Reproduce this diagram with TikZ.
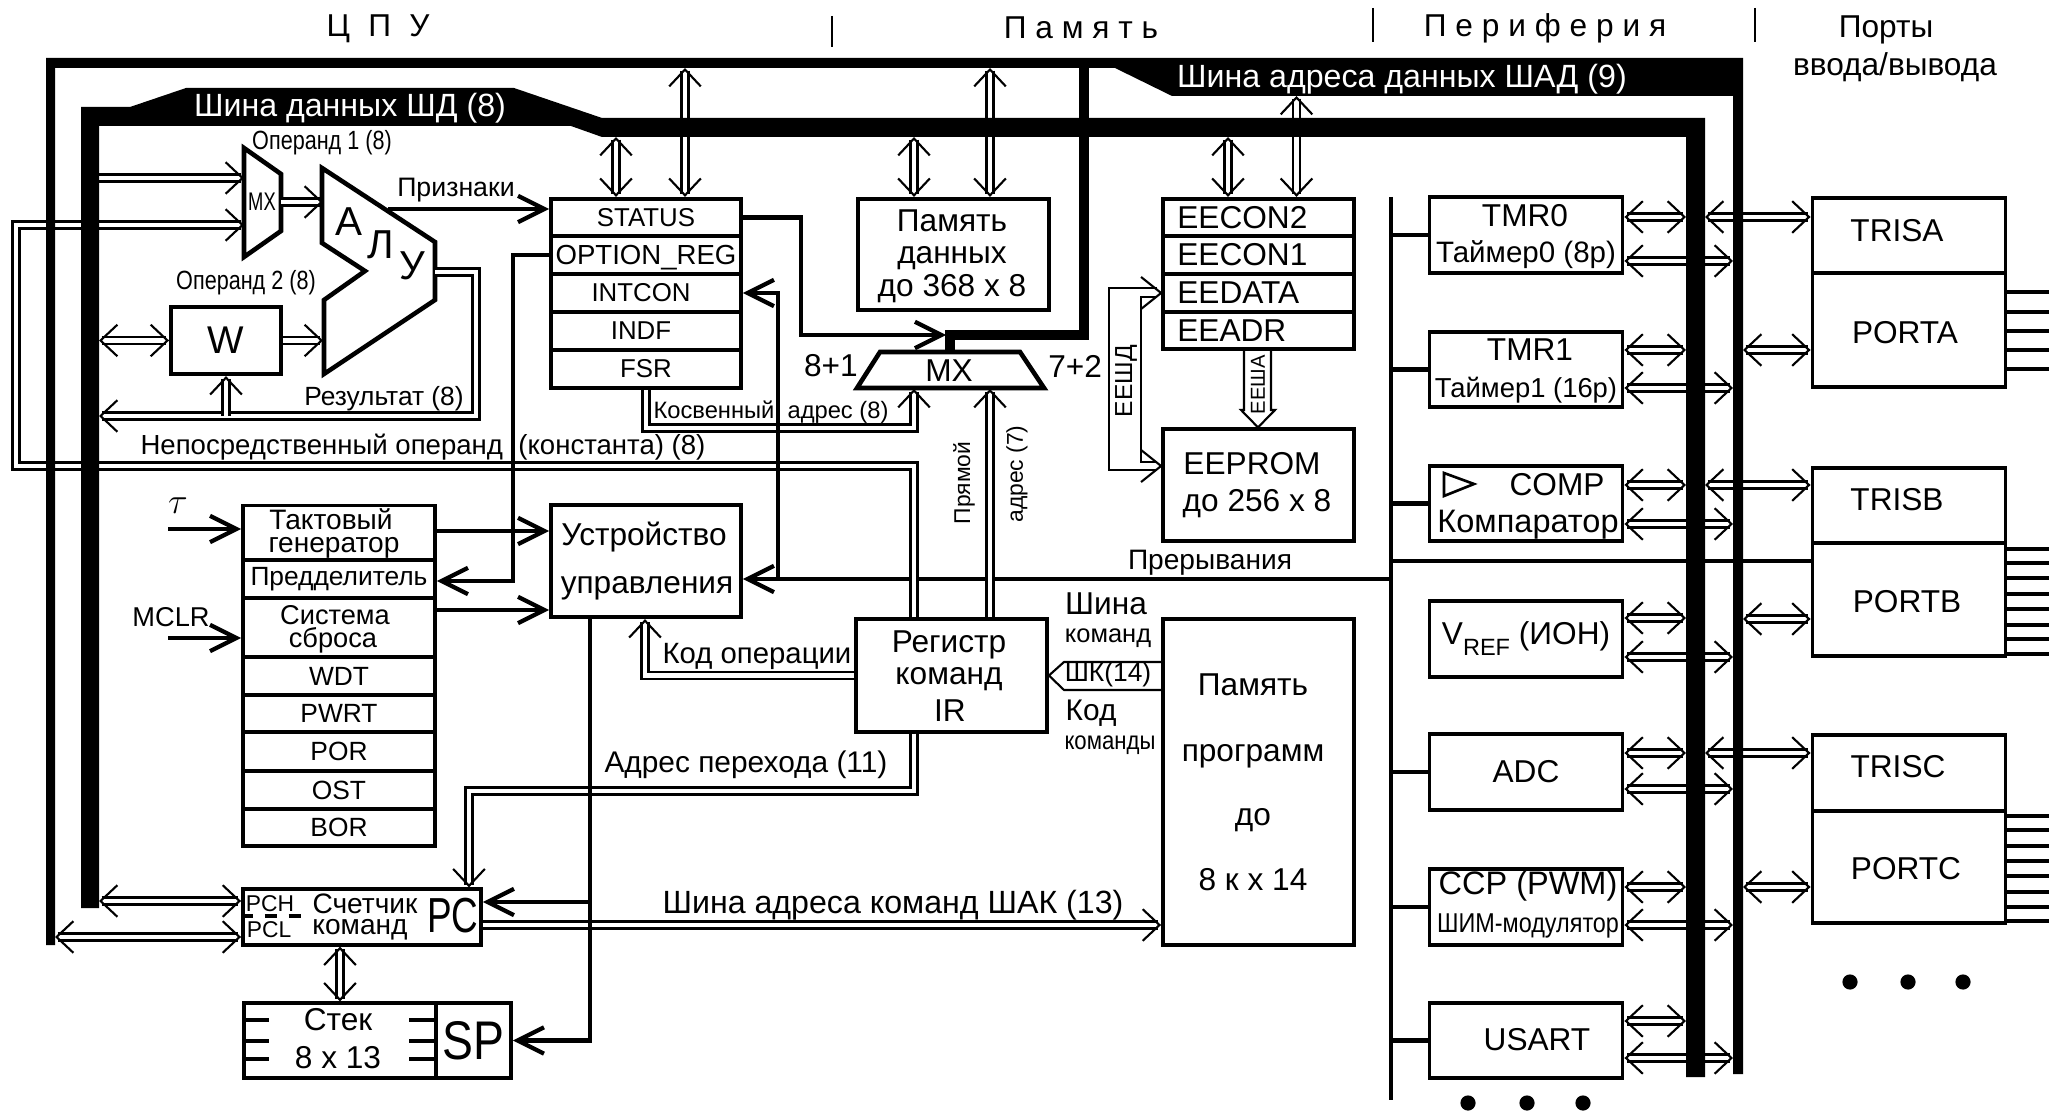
\documentclass[tikz,border=0pt]{standalone}
\usepackage{fontspec}
\usepackage{graphicx}
\setmainfont{Liberation Sans}
\usetikzlibrary{arrows.meta}
\newcommand{\fs}[1]{\fontsize{#1}{#1}\selectfont}
\newcommand{\nar}[2]{\scalebox{#1}[1]{#2}}
\def\px{.02cm}
\tikzset{
  hd/.tip={Straight Barb[length=9.6pt,width=18pt,line width=1.2pt]},
  th/.tip={Straight Barb[length=15pt,width=15pt,line width=2.4pt]},
  txt/.style={inner sep=0pt,font=\fs{#1}},
  txt/.default=18,
  box/.style 2 args={draw,line width=2.2pt,inner sep=0pt,font=\fs{18},minimum width=(#1+2)*\px,minimum height=(#2+.4)*\px},
  dbl/.style={double,double distance=2.8pt,line width=1.2pt},
  wire/.style={line width=2.3pt},
  wl/.style={line width=1.2pt},
  pin/.style={line width=2.2pt},
}
\begin{document}
\begin{tikzpicture}[x=.02cm,y=-.02cm]
\useasboundingbox (0,0) rectangle (2049,1114);
% headers
\node[txt] (hcpu) at (378,29) {\addfontfeature{LetterSpace=30}Ц П У};
\node[txt] (hmem) at (1081,28) {\addfontfeature{LetterSpace=28}Память};
\node[txt] (hper) at (1545,28) {\addfontfeature{LetterSpace=28}Периферия};
\node[txt] (hport) at (1886,30) {Порты};
\node[txt] (hio) at (1895,67) {ввода/вывода};
\draw[wl] (832,16)--(832,47) (1373,8)--(1373,42) (1755,8)--(1755,42);
% bus edges
\coordinate (dbL) at (99,0);
\coordinate (dbT) at (0,137);
\coordinate (dbR) at (1686,0);
\coordinate (dbS) at (1705,0);
\coordinate (abL) at (55,0);
\coordinate (abT) at (0,68);
\coordinate (abU) at (0,96);
\coordinate (abR) at (1733,0);
\coordinate (abS) at (1743,0);
\coordinate (pbus) at (1391,0);
% ALU and mux
\draw[line width=2.6pt] (322,168)--(435,242)--(435,300)--(324,374)--(324,300)--(365,271)--(322,243)--cycle;
\draw[line width=2.6pt] (244,148)--(281,174)--(281,231)--(244,257)--cycle;
\node[txt=14.5] (mxa) at (262,202) {\nar{.72}{МХ}};
\node[txt=23] (alua) at (349,222) {А};
\node[txt=23] (alub) at (381,245) {Л};
\node[txt=23] (aluc) at (412,266) {У};
\node[txt=15] (op1) at (322,143) {\nar{.82}{Операнд 1 (8)}};
\node[txt=15] (op2) at (246,283) {\nar{.82}{Операнд 2 (8)}};
\node[box={108}{67},font=\fs{22}] (w) at (226,340.5) {W};
\coordinate (mxw) at (244,0);
\coordinate (mxe) at (281,0);
\coordinate (aluw) at (323,0);
\coordinate (alue) at (435,0);
\coordinate (aluf) at (388,209);
% registers
\node[box={188}{37},font=\fs{14.7}] (status) at (646,217.5) {STATUS};
\node[box={188}{38},font=\fs{15.7},text depth=0pt] (optionreg) at (646,255) {OPTION\_REG};
\node[box={188}{38},font=\fs{14.7}] (intcon) at (646,293) {\hspace*{-.2cm}INTCON};
\node[box={188}{38},font=\fs{14.7}] (indf) at (646,331) {\hspace*{-.2cm}INDF};
\node[box={188}{38},font=\fs{14.7}] (fsr) at (646,369) {FSR};
\node[box={189}{111}] (mem) at (953.5,254.5) {};
\node[txt] (mema) at (952,221) {Память};
\node[txt] (memb) at (952,258) {данных};
\node[txt] (memc) at (952,289) {до 368 х 8};
\node[box={189}{37}] (eecontwo) at (1258.5,217.5) {};
\node[box={189}{38.5}] (eeconone) at (1258.5,255) {};
\node[box={189}{37.5}] (eedata) at (1258.5,293) {};
\node[box={189}{37}] (eeadr) at (1258.5,330.5) {};
\node[txt,anchor=west] (eea) at (1177,217.5) {EECON2};
\node[txt,anchor=west] (eeb) at (1177,255) {EECON1};
\node[txt,anchor=west] (eec) at (1177,293) {EEDATA};
\node[txt,anchor=west] (eed) at (1177,330.5) {EEADR};
\node[box={189}{111}] (eeprom) at (1258.5,485) {};
\node[txt] (eepa) at (1252,464) {EEPROM};
\node[txt] (eepb) at (1257,504) {до 256 х 8};
% second mux
\draw[line width=2.6pt] (880,352)--(1020,352)--(1044,388)--(857,388)--cycle;
\node[txt] (mxb) at (949,371) {МХ};
\node[txt,anchor=east] (mxl) at (858,366) {8+1};
\node[txt,anchor=west] (mxr) at (1048,366) {7+2};
\coordinate (mxs) at (0,389);
% clock stack
\node[box={190}{54.5}] (clkgen) at (339,533) {};
\node[txt=16] (clka) at (331,519) {Тактовый};
\node[txt=16] (clkb) at (334,548) {генератор};
\node[box={190}{38},font=\fs{15}] (prescaler) at (339,579) {Предделитель};
\node[box={190}{59}] (resetsys) at (339,627.5) {};
\node[txt=15.5] (rsta) at (335,615) {Система};
\node[txt=15.5] (rstb) at (333,640) {сброса};
\node[box={190}{38},font=\fs{15}] (wdt) at (339,676) {WDT};
\node[box={190}{37},font=\fs{15}] (pwrt) at (339,713.5) {PWRT};
\node[box={190}{39},font=\fs{15}] (por) at (339,751.5) {POR};
\node[box={190}{38},font=\fs{15}] (ost) at (339,790) {OST};
\node[box={190}{37},font=\fs{15}] (bor) at (339,827.5) {BOR};
\node[txt=20] (tau) at (178,506) {$\tau$};
\node[txt=15.5] (mclr) at (171,617) {MCLR};
\coordinate (tauin) at (168,529);
\coordinate (mclrin) at (168,638);
% control, IR, program memory
\node[box={188}{112}] (ctrl) at (646,561) {};
\node[txt] (ctrla) at (644,537) {Устройство};
\node[txt] (ctrlb) at (647,588) {управления};
\node[box={189}{112}] (ir) at (951.5,675.5) {};
\node[txt] (ira) at (949,645) {Регистр};
\node[txt] (irb) at (949,679) {команд};
\node[txt] (irc) at (950,711) {IR};
\node[box={189}{325}] (progmem) at (1258.5,782) {};
\node[txt] (pma) at (1253,685) {Память};
\node[txt] (pmb) at (1253,756) {программ};
\node[txt] (pmc) at (1253,820) {до};
\node[txt] (pmd) at (1253,880) {8 к х 14};
\node[txt] (cba) at (1106,604) {Шина};
\node[txt=14.5] (cbb) at (1108,638) {команд};
\node[txt=15] (cbc) at (1108,675) {ШК(14)};
\node[txt=17] (cbd) at (1091,713) {Код};
\node[txt=14.5] (cbe) at (1110,745) {\nar{.87}{команды}};
% PC and stack
\node[box={236}{55}] (pc) at (362,917) {};
\node[txt=13] (pch) at (270,904) {PCH};
\node[txt=13] (pcl) at (269,930) {PCL};
\node[txt=16] (pcc) at (365,904) {Счетчик};
\node[txt=16] (pcd) at (360,930) {команд};
\node[txt=28] (pcr) at (453,916) {\nar{.75}{PC}};
\draw[line width=2pt,dash pattern=on 7pt off 6.5pt] (pc.west|-0,916)--(305,916);
\node[box={190}{74}] (stackmem) at (340,1040.5) {};
\node[box={73}{74},font=\fs{31}] (sp) at (473.5,1040.5) {\nar{.85}{SP}};
\node[txt] (stka) at (338,1020) {Стек};
\node[txt] (stkb) at (338,1058) {8 х 13};
\foreach \yy in {1020,1041,1059}{
  \draw[wire] (stackmem.west|-0,\yy)--++(27,0);
  \draw[wire] (stackmem.east|-0,\yy)--++(-29,0);
}
% peripherals
\node[box={191}{75}] (tmr0) at (1526,235) {};
\node[txt] (tmra) at (1525,216) {TMR0};
\node[txt=16.8] (tmrb) at (1526,255) {Таймер0 (8р)};
\node[box={191}{74}] (tmr1) at (1526,369.5) {};
\node[txt] (tmrc) at (1530,350) {TMR1};
\node[txt=15.6] (tmrd) at (1526,390) {Таймер1 (16р)};
\node[box={191}{74}] (comp) at (1526,503.5) {};
\node[txt] (cmpa) at (1557,485) {COMP};
\node[txt=18.5] (cmpb) at (1528,525) {Компаратор};
\draw[wl,line width=1.5pt] (1444,473)--(1474,484)--(1444,496)--cycle;
\node[box={191}{75}] (vref) at (1526,639) {V\raisebox{-.35em}{\fs{13.4}REF} (ИОН)};
\node[box={191}{75}] (adc) at (1526,772) {ADC};
\node[box={191}{75}] (ccp) at (1526,907) {};
\node[txt=18.5] (ccpa) at (1528,886) {CCP (PWM)};
\node[txt=15.5] (ccpb) at (1528,926) {\nar{.86}{ШИМ-модулятор}};
\node[box={191}{74}] (usart) at (1526,1040.5) {};
\node[txt] (usa) at (1537,1040) {USART};
% ports
\node[box={191}{75}] (trisa) at (1909,235.5) {};
\node[box={191}{114}] (porta) at (1909,330) {};
\node[box={191}{75}] (trisb) at (1909,505.5) {};
\node[box={191}{113}] (portb) at (1909,599.5) {};
\node[box={191}{76}] (trisc) at (1909,773) {};
\node[box={191}{112}] (portc) at (1909,867) {};
\node[txt] (ta) at (1897,231) {TRISA};
\node[txt] (pa) at (1905,333) {PORTA};
\node[txt] (tb) at (1897,500) {TRISB};
\node[txt] (pb) at (1907,602) {PORTB};
\node[txt] (tc) at (1898,767) {TRISC};
\node[txt] (pcp) at (1906,869) {PORTC};
\foreach \yy in {292,312,331,350,369}{\draw[pin] (porta.east|-0,\yy)--(2049,\yy);}
\foreach \yy in {549,563,578,594,609,625,639,654}{\draw[pin] (portb.east|-0,\yy)--(2049,\yy);}
\foreach \yy in {816,830,846,861,876,892,907,921}{\draw[pin] (portc.east|-0,\yy)--(2049,\yy);}
\foreach \xx in {1850,1908,1963}{\fill (\xx,982) circle[radius=7.6];}
\foreach \xx in {1468,1527,1583}{\fill (\xx,1103) circle[radius=7.6];}
% peripheral line
\draw[wire] (pbus|-0,197)--(pbus|-0,1100);
\foreach \nm in {tmr0,tmr1,comp,adc,ccp,usart}{\draw[wire] (pbus|-\nm.west)--(\nm.west);}
\draw[wire] (pbus|-0,561)--(portb.west|-0,561);
\draw[wire,-th] (pbus|-0,579)--(ctrl.east|-0,579);
\node[txt=16] (irq) at (1210,563) {Прерывания};
% double lines
\draw[dbl,hd-hd] (616,0|-dbT)--(616,0|-status.north);
\draw[dbl,hd-hd] (685,0|-abT)--(685,0|-status.north);
\draw[dbl,hd-hd] (914,0|-dbT)--(914,0|-mem.north);
\draw[dbl,hd-hd] (990,0|-abT)--(990,0|-mem.north);
\draw[dbl,hd-hd] (1228,0|-dbT)--(1228,0|-eecontwo.north);
\draw[dbl,hd-hd] (1296.5,0|-abU)--(1296.5,0|-eecontwo.north);
\draw[dbl,-hd] (dbL|-0,178)--(mxw|-0,178);
\draw[dbl,-hd] (914,0|-ir.north)--(914,466)--(16,466)--(16,225)--(mxw|-0,225);
\draw[dbl,-hd] (mxe|-0,202)--(aluw|-0,202);
\draw[dbl,-hd] (w.east)--(aluw|-w.east);
\draw[dbl,hd-hd] (dbL|-w.west)--(w.west);
\draw[dbl,-hd] (alue|-0,272)--(476,272)--(476,416)--(dbL|-0,416);
\draw[dbl,-hd] (w.south|-0,416)--(w.south);
\draw[dbl,-hd] (fsr.south)--(646,428)--(914,428)--(914,0|-mxs);
\draw[dbl,-hd] (990,0|-ir.north)--(990,0|-mxs);
\draw[dbl,-hd] (ir.west)--(645,0|-ir.west)--(645,0|-ctrl.south);
\draw[dbl,-hd] (914,0|-ir.south)--(914,791)--(469,791)--(469,0|-pc.north);
\draw[dbl,-hd] (pc.east|-0,925)--(progmem.west|-0,925);
\draw[dbl,hd-hd] (dbL|-0,901)--(pc.west|-0,901);
\draw[dbl,hd-hd] (abL|-0,937)--(pc.west|-0,937);
\draw[dbl,hd-hd] (340,0|-pc.south)--(340,0|-stackmem.north);
\foreach \nm/\up/\lo in {tmr0/217/261,tmr1/350/388,comp/485/524,vref/618/657,adc/753/789,ccp/887/925,usart/1021/1058}{
  \draw[dbl,hd-hd] (\nm.east|-0,\up)--(dbR|-0,\up);
  \draw[dbl,hd-hd] (\nm.east|-0,\lo)--(abR|-0,\lo);
}
\foreach \nm/\up/\lo in {trisa/217/350,trisb/485/619,trisc/753/887}{
  \draw[dbl,hd-hd] (dbS|-0,\up)--(\nm.west|-0,\up);
  \draw[dbl,hd-hd] (abS|-0,\lo)--(\nm.west|-0,\lo);
}
% EEPROM links
\draw[wl] (eedata.west) ++(-20,-16)--++(20,16)--++(-20,16);
\draw[wl] (eeprom.west|-0,466) ++(-20,-16)--++(20,16)--++(-20,16);
\draw[wl] (1157,288)--(1109,288)--(1109,470)--(1157,470);
\draw[wl] (1157,297)--(1141,297)--(1141,462)--(1157,462);
\node[txt=14,rotate=90] (eesd) at (1126,381) {ЕЕШД};
\draw[wl] (1244,0|-eeadr.south)--(1244,410)--(1241,410)--(1258,0|-eeprom.north)--(1275,410)--(1271,410)--(1271,0|-eeadr.south);
\node[txt=11.5,rotate=90] (eesa) at (1258,385) {ЕЕША};
\draw[wl] (progmem.west|-0,662)--(1064,662)--(ir.east)--(1064,690)--(progmem.west|-0,690);
% buses
\fill (46,945)--(46,58)--(1743,58)--(1743,1074)--(1733,1074)--(1733,96)--(1172,96)--(1115,68)--(55,68)--(55,945)--cycle;
\fill (81,908)--(81,107)--(130,107)--(186,88)--(514,88)--(602,118)--(1705,118)--(1705,1077)--(1686,1077)--(1686,137)--(602,137)--(571,126)--(99,126)--(99,908)--cycle;
\draw[line width=5.6pt] (1084,63)--(1084,335)--(950,335)--(950,352);
\node[txt=18.3,text=white] (busa) at (1402,79) {Шина адреса данных ШАД (9)};
\node[txt=18.3,text=white] (busd) at (350,108) {Шина данных ШД (8)};
% control wires
\draw[wire,-th] (aluf)--(status.west|-aluf);
\node[txt=15.2] (flg) at (456,190) {Признаки};
\draw[wire,-th] (status.east)--(801,0|-status.east)--(801,335)--(946,335);
\draw[wire,-th] (optionreg.west)--(513,0|-optionreg.west)--(513,581)--(prescaler.east|-0,581);
\draw[wire,-th] (778,579)--(778,0|-intcon.east)--(intcon.east);
\draw[wire,-th] (tauin)--(clkgen.west|-tauin);
\draw[wire,-th] (mclrin)--(resetsys.west|-mclrin);
\draw[wire,-th] (clkgen.east|-0,531)--(ctrl.west|-0,531);
\draw[wire,-th] (resetsys.east|-0,610)--(ctrl.west|-0,610);
\draw[wire,-th] (590,0|-ctrl.south)--(590,0|-sp.east)--(sp.east);
\draw[wire,-th] (590,902)--(pc.east|-0,902);
% line labels
\node[txt=15] (res) at (384,399) {Результат (8)};
\node[txt=15.7] (imm) at (423,447) {Непосредственный операнд\ \ (константа) (8)};
\node[txt=13.5] (ind) at (771,412) {Косвенный\ \ адрес (8)};
\node[txt=13,rotate=90] (dira) at (964,483) {Прямой};
\node[txt=13,rotate=90] (dirb) at (1017,474) {адрес (7)};
\node[txt=16.7] (opc) at (757,656) {Код операции};
\node[txt=17] (jmp) at (746,765) {Адрес перехода (11)};
\node[txt=18.3] (shak) at (893,905) {Шина адреса команд ШАК (13)};
\end{tikzpicture}
\end{document}
